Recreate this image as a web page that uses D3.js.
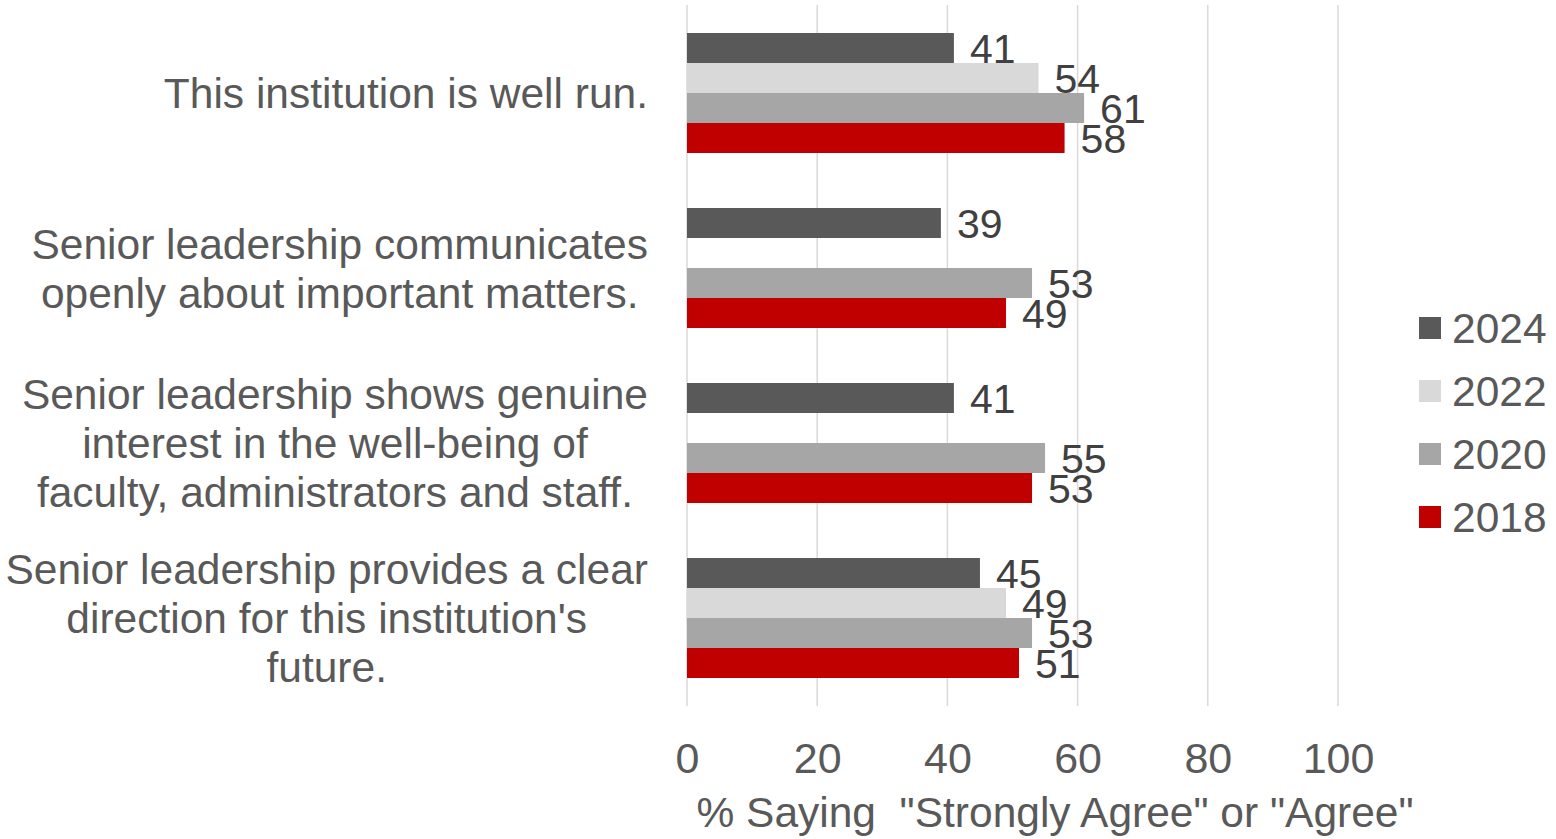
<!DOCTYPE html>
<html>
<head>
<meta charset="utf-8">
<script src="https://cdn.jsdelivr.net/npm/d3@7"></script>
<style>
  html, body { margin: 0; padding: 0; background: #ffffff; }
  svg { display: block; font-family: "Liberation Sans", Arial, sans-serif; }
</style>
</head>
<body>
<svg id="chart" width="1556" height="839"></svg>
<script>
// Survey statements (each entry is a list of wrapped lines)
const categories = [
  ["This institution is well run."],
  ["Senior leadership communicates", "openly about important matters."],
  ["Senior leadership shows genuine", "interest in the well-being of", "faculty, administrators and staff."],
  ["Senior leadership provides a clear", "direction for this institution's", "future."]
];
const years = ["2024", "2022", "2020", "2018"];
const yearColors = ["#595959", "#D9D9D9", "#A6A6A6", "#C00000"];

// % saying "Strongly Agree" or "Agree", per statement, per year (null = not asked)
const values2024 = [41, 39, 41, 45];
const values2022 = [54, null, null, 49];
const values2020 = [61, 53, 55, 53];
const values2018 = [58, 49, 53, 51];

const xTicks = [0, 20, 40, 60, 80, 100];
const xTitle = '% Saying  "Strongly Agree" or "Agree"';

const seriesValues = [values2024, values2022, values2020, values2018];

const svg = d3.select("#chart");
const labelSize = 42.5;
const tickSize = 43;
const valueSize = 41;

const x = d3.scaleLinear().domain([0, 100]).range([687, 1338]);
const y0 = d3.scaleBand().domain(d3.range(categories.length)).range([5.5, 705.5]).paddingInner(55 / 175).paddingOuter(55 / 350);
const y1 = d3.scaleBand().domain(years).range([0, y0.bandwidth()]);

// vertical gridlines
svg.append("g")
  .selectAll("line")
  .data(xTicks)
  .join("line")
  .attr("x1", d => x(d)).attr("x2", d => x(d))
  .attr("y1", 5).attr("y2", 706)
  .attr("stroke", "#D9D9D9").attr("stroke-width", 1.5);

// x tick labels via d3 axis
const xAxis = svg.append("g")
  .attr("transform", "translate(0,773)")
  .call(d3.axisBottom(x).tickValues(xTicks).tickSize(0).tickPadding(0));
xAxis.select(".domain").remove();
xAxis.selectAll("text")
  .attr("font-size", tickSize)
  .attr("font-family", "Liberation Sans, Arial, sans-serif")
  .attr("fill", "#595959")
  .attr("y", 0)
  .attr("dy", 0);

// axis title (double space kept)
svg.append("text")
  .attr("x", 1055).attr("y", 827)
  .attr("text-anchor", "middle")
  .attr("font-size", labelSize)
  .attr("fill", "#595959")
  .style("white-space", "pre")
  .text(xTitle);

// bars and value labels
const groups = svg.append("g")
  .selectAll("g")
  .data(categories.map((c, i) => i))
  .join("g")
  .attr("transform", i => `translate(0,${y0(i)})`);

const cells = groups.selectAll("g")
  .data(i => years.map((yr, k) => ({ yr, k, v: seriesValues[k][i] })).filter(d => d.v != null))
  .join("g");

cells.append("rect")
  .attr("x", x(0))
  .attr("y", d => y1(d.yr))
  .attr("width", d => x(d.v) - x(0))
  .attr("height", y1.bandwidth())
  .attr("fill", d => yearColors[d.k]);

cells.append("text")
  .attr("x", d => x(d.v) + 16)
  .attr("y", d => y1(d.yr) + y1.bandwidth() / 2 + valueSize * 0.36)
  .attr("font-size", valueSize)
  .attr("fill", "#404040")
  .text(d => d.v);

// category labels: lines centred within a block that is right-aligned to the axis
const lineHeight = 49;
categories.forEach((lines, i) => {
  const cy = y0(i) + y0.bandwidth() / 2;
  const t = svg.append("text")
    .attr("font-size", labelSize)
    .attr("fill", "#595959")
    .attr("text-anchor", "middle");
  const spans = lines.map((ln, j) => t.append("tspan")
    .attr("y", cy + (j - (lines.length - 1) / 2) * lineHeight + labelSize * 0.36)
    .text(ln));
  const maxW = d3.max(spans, s => s.node().getComputedTextLength());
  spans.forEach(s => s.attr("x", 648 - maxW / 2));
});

// legend
const legend = svg.append("g")
  .selectAll("g")
  .data(years)
  .join("g")
  .attr("transform", (d, i) => `translate(1419,${328 + i * 63})`);
legend.append("rect")
  .attr("x", 0).attr("y", -11)
  .attr("width", 22).attr("height", 22)
  .attr("fill", (d, i) => yearColors[i]);
legend.append("text")
  .attr("x", 33).attr("y", labelSize * 0.36)
  .attr("font-size", labelSize)
  .attr("fill", "#595959")
  .text(d => d);
</script>
</body>
</html>
